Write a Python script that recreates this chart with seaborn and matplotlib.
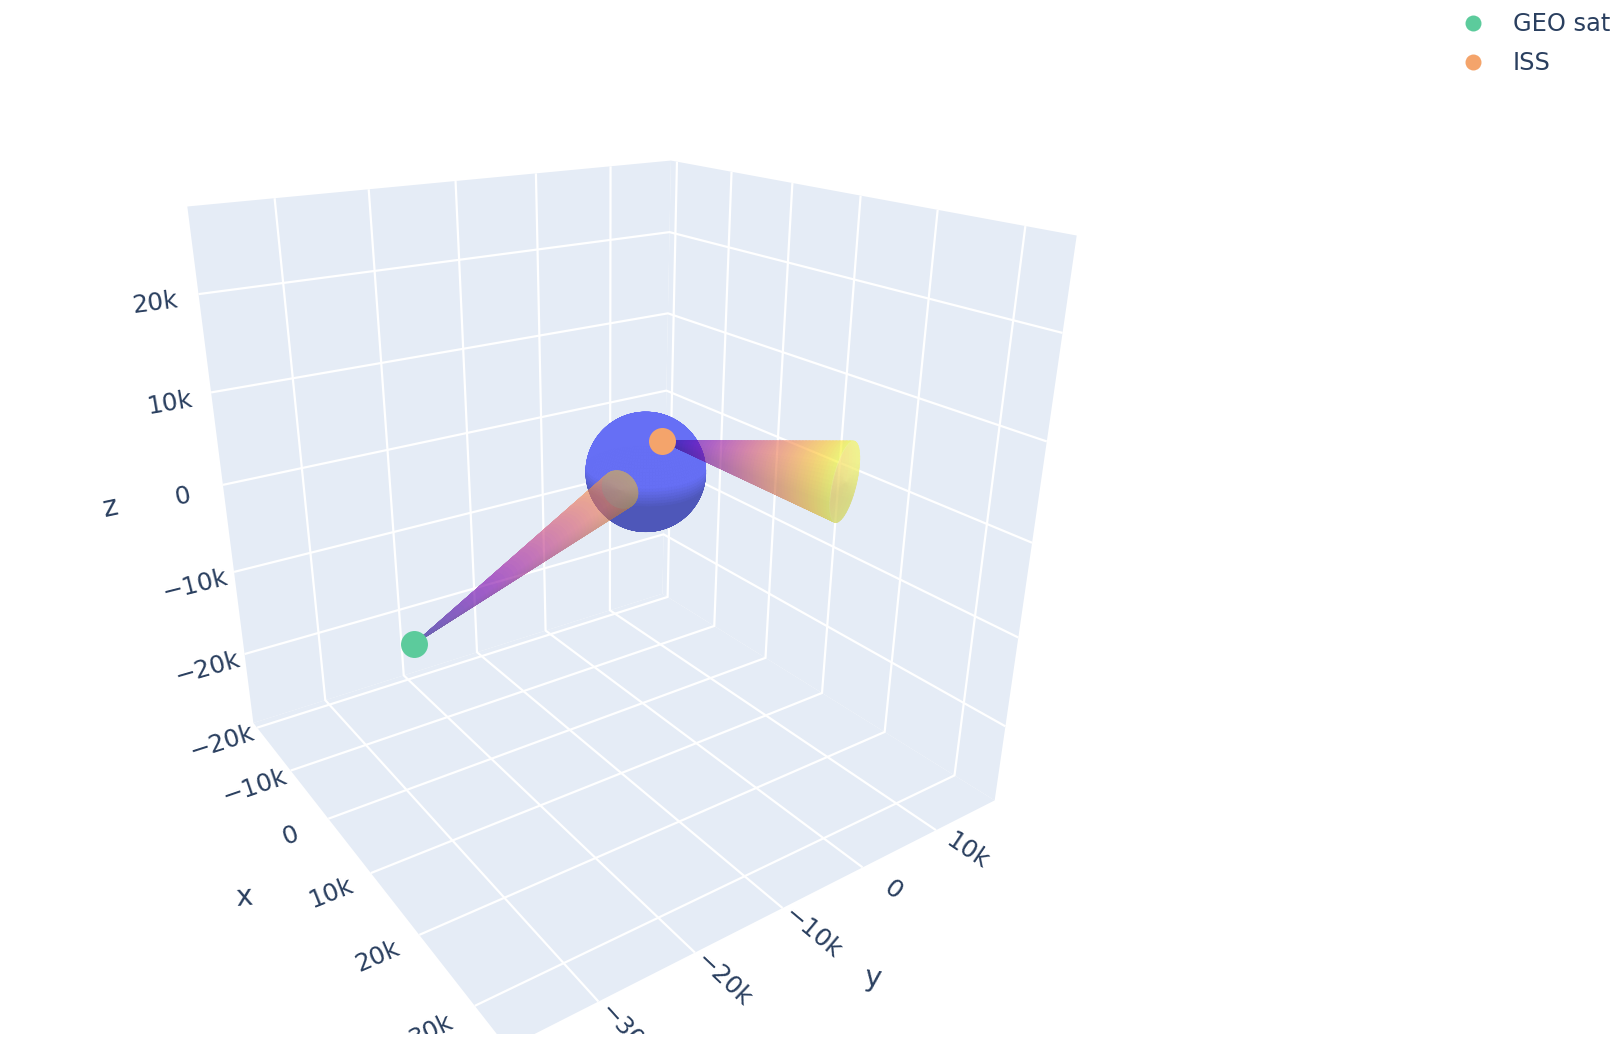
import numpy as np
import matplotlib
matplotlib.use("Agg")
import matplotlib.pyplot as plt
from matplotlib.lines import Line2D
from matplotlib.patches import Rectangle
import seaborn as sns

# axis ranges and ticks
x_range = [-21179, 35275]
y_range = [-38586, 18646]
z_range = [-28843, 28404]
x_ticks = [-20000, -10000, 0, 10000, 20000, 30000]
y_ticks = [-30000, -20000, -10000, 0, 10000]
z_ticks = [-20000, -10000, 0, 10000, 20000]

# positions in km
names = ["GEO sat", "ISS"]
sat_pos = [19898, -37172, -330]
iss_pos = [4485, -1291, 4905]
earth_center = [0, 0, -200]
earth_r = 6371
geo_base = [2865, -5353, -48]
geo_base_r = 2050
iss_base = [22036, 7245, 4275]
iss_base_r = 3951
iss_base_up = [-0.133, 0.341, 0.931]

sat_color = "#5CCB9C"
iss_color = "#F4A46B"
ink = "#2a3f5f"

sns.set_theme(style="whitegrid", rc={"grid.color": "white", "grid.linewidth": 1.6})
plt.rcParams["font.family"] = ["DejaVu Sans"]
plasma = sns.color_palette("plasma", as_cmap=True)

W, H = 1624, 1052
s, cx, cy = 5274.5, 605.75, 514.3
fig = plt.figure(figsize=(W / 100, H / 100), dpi=100)
side = 0.185 * s
ax = fig.add_axes([(cx - 0.095 * s) / W, (H - cy - 0.095 * s) / H, side / W, side / H],
                  projection="3d", computed_zorder=False)


def fade(alpha):
    # whole surface gets one opacity, so the mesh seams do not show
    def apply(image, dpi):
        image = image.copy()
        image[..., 3] *= alpha
        return image, 0, 0
    return apply


def cone(apex, center, radius, up, t_max, alpha, cap_rgb, cap_alpha, z):
    apex = np.array(apex, float)
    center = np.array(center, float)
    axis = center - apex
    axis = axis / np.linalg.norm(axis)
    e1 = np.array(up, float)
    e1 = e1 - (e1 @ axis) * axis
    e1 /= np.linalg.norm(e1)
    e2 = np.cross(axis, e1)
    T, TH = np.meshgrid(np.linspace(0, 1, 61), np.linspace(0, 2 * np.pi, 61))
    ring = center[:, None, None] + radius * (e1[:, None, None] * np.cos(TH) + e2[:, None, None] * np.sin(TH))
    P = apex[:, None, None] + T * (ring - apex[:, None, None])
    rgba = plasma(T * t_max)
    # the lower side is a bit darker
    shade = 0.84 + 0.16 * np.clip(np.cos(TH) + 0.5, 0, 1)
    rgba[..., :3] *= shade[..., None]
    surf = ax.plot_surface(P[0], P[1], P[2], facecolors=rgba, rstride=1, cstride=1,
                           linewidth=0.6, antialiased=True, shade=False, zorder=z)
    surf.set_agg_filter(fade(alpha))
    R, TH2 = np.meshgrid(np.linspace(0, 1, 3), np.linspace(0, 2 * np.pi, 61))
    C = center[:, None, None] + radius * R * (e1[:, None, None] * np.cos(TH2) + e2[:, None, None] * np.sin(TH2))
    cap = np.ones(R.shape + (4,))
    cap[..., :3] = np.array(cap_rgb) * (0.9 + 0.1 * np.clip(np.cos(TH2) + 0.5, 0, 1))[..., None]
    disc = ax.plot_surface(C[0], C[1], C[2], facecolors=cap, rstride=1, cstride=1,
                           linewidth=0.6, antialiased=True, shade=False, zorder=z + 0.5)
    disc.set_agg_filter(fade(cap_alpha))


# earth
U, V = np.meshgrid(np.linspace(0, np.pi, 61), np.linspace(0, 2 * np.pi, 121))
X = earth_center[0] + earth_r * np.sin(U) * np.cos(V)
Y = earth_center[1] + earth_r * np.sin(U) * np.sin(V)
Z = earth_center[2] + earth_r * np.cos(U)
f = np.clip((np.cos(U) + 0.2) / 0.34, 0, 1)[..., None]
light = np.array([0.400, 0.435, 0.960])
dark = np.array([0.305, 0.340, 0.725])
rgba = np.concatenate([dark + f * (light - dark), np.ones(f.shape)], axis=2)
ax.plot_surface(X, Y, Z, facecolors=rgba, rstride=1, cstride=1, linewidth=0.5, antialiased=True, shade=False, zorder=2)

cone(iss_pos, iss_base, iss_base_r, iss_base_up, 1.0, 0.78, (0.96, 0.97, 0.72), 0.6, 3)
cone(sat_pos, geo_base, geo_base_r, [0, 0, 1], 0.84, 0.78, (0.62, 0.63, 0.59), 0.65, 4)

ax.scatter(*sat_pos, s=377, c=sat_color, depthshade=False, linewidths=0, zorder=6)
ax.scatter(*iss_pos, s=377, c=iss_color, depthshade=False, linewidths=0, zorder=6)

ax.set_xlim(*x_range)
ax.set_ylim(*y_range)
ax.set_zlim(*z_range)
ax.set_box_aspect((1, 1.0113, 1.0095))
ax.view_init(elev=23.094, azim=-34.303, roll=0)
ax.set_proj_type("persp", focal_length=0.23961)

ax.set_xticks(x_ticks)
ax.set_yticks(y_ticks)
ax.set_zticks(z_ticks)
ax.set_xticklabels([])
ax.set_yticklabels([])
ax.set_zticklabels([])
ax.tick_params(color=(0, 0, 0, 0))
for axis in (ax.xaxis, ax.yaxis, ax.zaxis):
    axis.set_pane_color("#E5ECF6")
    axis.pane.set_linewidth(0)
    axis.pane.set_edgecolor("#E5ECF6")
    axis._axinfo["axisline"]["linewidth"] = 0
    axis._axinfo["axisline"]["color"] = (0, 0, 0, 0)
    axis.line.set_linewidth(0)


def lab(t):
    return "0" if t == 0 else "%s%dk" % ("\u2212" if t < 0 else "", abs(t) / 1000)


tick_kw = dict(color=ink, fontsize=17.8, ha="center", va="center", rotation_mode="anchor")
for t in x_ticks:
    ax.text(t, y_range[0] - 4000, z_range[0] - 400, lab(t), zdir="y", **tick_kw)
for t in y_ticks:
    ax.text(x_range[1] + 3900, t, z_range[0], lab(t), zdir="x", **tick_kw)
for t in z_ticks:
    ax.text(x_range[0], y_range[0] - 4200, t - 350, lab(t), zdir="y", **tick_kw)

title_kw = dict(color=ink, fontsize=20.5, ha="center", va="center", rotation_mode="anchor")
ax.text(6600, y_range[0] - 11000, z_range[0], "x", zdir=(1, 2, 0), **title_kw)
ax.text(x_range[1] + 11000, -9900, z_range[0] + 400, "y", zdir=(1, 1, 0), **title_kw)
ax.text(x_range[0], y_range[0] - 11300, 100, "z", zdir="y", **title_kw)

# the scene is cut off at the bottom
fig.add_artist(Rectangle((0, 0), 1, (H - 1034) / H, transform=fig.transFigure, fc="white", ec="none", zorder=5))

handles = [Line2D([], [], ls="", marker="o", ms=11.5, mfc=c, mec="none") for c in (sat_color, iss_color)]
fig.legend(handles, names, loc="upper left", bbox_to_anchor=(1460 / W, 1 - 12 / H), frameon=False, fontsize=17.4,
           labelcolor=ink, borderpad=0, borderaxespad=0, handlelength=1.08, handletextpad=1.1, labelspacing=0.62)

fig.savefig("out.png", dpi=100)
